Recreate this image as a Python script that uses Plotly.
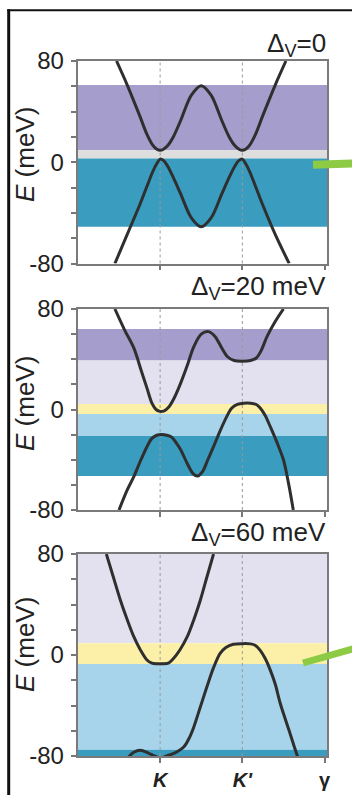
import plotly.graph_objects as go

W, H = 352, 795

# ---------------- data ----------------
k_ticks = [1, 2, 3]
k_labels = ["<b><i>K</i></b>", "<b><i>K'</i></b>", "<b>γ</b>"]
y_ticks = [-80, -60, -40, -20, 0, 20, 40, 60, 80]
y_labels = ["-80", "", "", "", "0", "", "", "", "80"]
titles = ["Δ<sub>V</sub>=0", "Δ<sub>V</sub>=20 meV", "Δ<sub>V</sub>=60 meV"]

# panel 1 (Δ=0)
k_cb1 = [0.47, 0.6, 0.75, 0.84, 0.91, 0.96, 1.0, 1.04, 1.09, 1.16, 1.25, 1.38, 1.5, 1.62, 1.75, 1.84, 1.91, 1.96, 2.0, 2.04, 2.09, 2.16, 2.25, 2.4, 2.53]
E_cb1 = [80, 61, 37, 22, 13.5, 10.3, 9.5, 10.3, 13, 20, 33, 53, 60.5, 53, 33, 20, 13, 10.3, 9.5, 10.3, 13.5, 22, 37, 61, 80]
k_vb1 = [0.45, 0.6, 0.75, 0.84, 0.91, 0.96, 1.0, 1.04, 1.09, 1.16, 1.25, 1.38, 1.5, 1.62, 1.75, 1.84, 1.91, 1.96, 2.0, 2.04, 2.09, 2.16, 2.25, 2.4, 2.57]
E_vb1 = [-80, -57, -34, -19, -7.5, -1, 2.5, 1.5, -3, -12, -25, -44, -51, -44, -25, -12, -3, 1.5, 2.5, -1, -7.5, -19, -34, -57, -80]
band1_lo = [9.5, 3, -51]
band1_hi = [61, 9.5, 3]

# panel 2 (Δ=20 meV)
k_cb2 = [0.45, 0.57, 0.68, 0.77, 0.84, 0.9, 0.95, 1.0, 1.05, 1.1, 1.17, 1.25, 1.33, 1.41, 1.5, 1.59, 1.67, 1.75, 1.82, 1.9, 2.0, 2.1, 2.17, 2.23, 2.3, 2.4, 2.5]
E_cb2 = [80, 63, 49, 31, 17, 5, 0, -1.5, -1, 1.5, 9, 21, 35, 50, 60, 62, 58, 49, 42, 39, 38.5, 39, 41, 47, 58, 70, 80]
k_vb2 = [0.5, 0.6, 0.68, 0.76, 0.84, 0.9, 0.96, 1.02, 1.08, 1.14, 1.2, 1.25, 1.33, 1.4, 1.455, 1.52, 1.58, 1.65, 1.73, 1.81, 1.87, 1.94, 2.02, 2.1, 2.17, 2.22, 2.28, 2.34, 2.42, 2.5, 2.56, 2.62]
E_vb2 = [-80, -64, -53.5, -41, -29.6, -23, -20.5, -20, -20.5, -22, -27, -32, -43, -51, -53, -49, -40, -29.6, -17, -5.7, 1, 4, 5, 5, 4, 1, -5, -13.7, -26, -40, -58, -80]
band2_lo = [39, 4.4, -3.6, -21, -53]
band2_hi = [64, 39, 4.4, -3.6, -21]

# panel 3 (Δ=60 meV)
k_cb3 = [0.346, 0.43, 0.516, 0.6, 0.68, 0.76, 0.84, 0.9, 0.96, 1.0, 1.04, 1.1, 1.16, 1.24, 1.33, 1.41, 1.49, 1.57, 1.65]
E_cb3 = [80, 62, 43.6, 28, 14.5, 4, -4, -6.5, -7, -7, -7, -6.5, -3, 4, 14.5, 28, 43.6, 62, 80]
k_vb3 = [0.6, 0.68, 0.76, 0.85, 0.93, 1.0, 1.08, 1.18, 1.29, 1.36, 1.41, 1.49, 1.57, 1.65, 1.73, 1.8, 1.89, 2.0, 2.1, 2.16, 2.22, 2.28, 2.34, 2.4, 2.46, 2.57, 2.67, 2.7]
E_vb3 = [-82, -77, -75.5, -77.5, -80, -81.5, -80, -77.5, -72.7, -65, -57, -41, -25, -10, 1.3, 6, 8.5, 9, 8.8, 7.5, 3.5, -3, -12, -23, -38, -60, -80, -85]
band3_lo = [9.3, -7.1, -75, -80]
band3_hi = [80, 9.3, -7.1, -75]

# ---------------- style ----------------
PURPLE = "#a59dcb"
GRAY = "#dedede"
TEAL = "#3a9cbf"
LAVENDER = "#e3e0ef"
YELLOW = "#fcf0a8"
LBLUE = "#a7d4eb"
band1_col = [PURPLE, GRAY, TEAL]
band2_col = [PURPLE, LAVENDER, YELLOW, LBLUE, TEAL]
band3_col = [LAVENDER, YELLOW, LBLUE, TEAL]

FONT = "Liberation Sans, Arial, Helvetica, sans-serif"
LINE = "#2f2f2f"
GREEN = "#8dcb45"

def px_x(p):
    return p / W

def px_y(p):
    return 1 - p / H

x_dom = [px_x(77.5), px_x(327)]
y_doms = [[px_y(263.5), px_y(61)], [px_y(510), px_y(309)], [px_y(756), px_y(554)]]

fig = go.Figure()

curves = [(k_cb1, E_cb1, k_vb1, E_vb1), (k_cb2, E_cb2, k_vb2, E_vb2), (k_cb3, E_cb3, k_vb3, E_vb3)]
bands = [(band1_lo, band1_hi, band1_col), (band2_lo, band2_hi, band2_col), (band3_lo, band3_hi, band3_col)]

shapes = []
annotations = []
layout = {}
for i in range(3):
    n = "" if i == 0 else str(i + 1)
    xa, ya = "x" + n, "y" + n
    kc, ec, kv, ev = curves[i]
    for kk, ee in ((kc, ec), (kv, ev)):
        fig.add_trace(go.Scatter(x=kk, y=ee, mode="lines", xaxis=xa, yaxis=ya,
                                 line=dict(color=LINE, width=3, shape="spline", smoothing=0.9),
                                 showlegend=False, hoverinfo="skip"))
    lo, hi, col = bands[i]
    for a, b, c in zip(lo, hi, col):
        shapes.append(dict(type="rect", xref=xa + " domain", yref=ya, x0=0, x1=1, y0=a, y1=b,
                           fillcolor=c, line=dict(width=0), layer="below"))
    for kt in k_ticks[:2]:
        shapes.append(dict(type="line", xref=xa, yref=ya + " domain", x0=kt, x1=kt, y0=0, y1=1,
                           line=dict(color="#9a9a9a", width=1, dash="dot"), layer="below"))
    layout["xaxis" + n] = dict(domain=x_dom, anchor=ya, range=[-0.005, 3.03], tickvals=k_ticks,
                               ticktext=k_labels, showticklabels=(i == 2), ticks="outside", ticklen=5,
                               tickwidth=1.5, tickcolor="#777", showline=True, mirror=True,
                               linecolor="#7a7a7a", linewidth=1.5, showgrid=False, zeroline=False,
                               tickfont=dict(size=20, color="#222", family=FONT), ticklabelstandoff=0,
                               automargin=False, fixedrange=True)
    layout["yaxis" + n] = dict(domain=y_doms[i], anchor=xa, range=[-80, 80], tickvals=y_ticks,
                               ticktext=y_labels, ticks="outside", ticklen=5, tickwidth=1.5,
                               tickcolor="#777", showline=True, mirror=True, linecolor="#7a7a7a",
                               linewidth=1.5, showgrid=False, zeroline=False,
                               tickfont=dict(size=24, color="#222", family=FONT), ticklabelstandoff=2,
                               automargin=False, fixedrange=True)
    # panel title
    title_px = [63, 306, 552][i]
    annotations.append(dict(text=titles[i], xref="paper", yref="paper", x=px_x(328), y=px_y(title_px),
                            xanchor="right", yanchor="bottom", showarrow=False,
                            font=dict(size=26, color="#222", family=FONT)))
    # y axis title
    yt_px = [155, 404, 645][i]
    annotations.append(dict(text="<i>E</i> (meV)", xref="paper", yref="paper", x=px_x(25), y=px_y(yt_px),
                            xanchor="center", yanchor="middle", textangle=-90, showarrow=False,
                            font=dict(size=26, color="#222", family=FONT)))

# outer frame lines and green pointers
shapes.append(dict(type="line", xref="paper", yref="paper", x0=px_x(8.7), x1=px_x(8.7), y0=px_y(9.3), y1=px_y(800),
                   line=dict(color="#111", width=3)))
shapes.append(dict(type="line", xref="paper", yref="paper", x0=px_x(7.2), x1=px_x(360), y0=px_y(10.3), y1=px_y(10.3),
                   line=dict(color="#111", width=2)))
shapes.append(dict(type="line", xref="paper", yref="paper", x0=px_x(313), x1=px_x(356), y0=px_y(164.8), y1=px_y(163.4),
                   line=dict(color=GREEN, width=8)))
shapes.append(dict(type="line", xref="paper", yref="paper", x0=px_x(303), x1=px_x(356), y0=px_y(663), y1=px_y(648),
                   line=dict(color=GREEN, width=7)))

fig.update_layout(width=W, height=H, margin=dict(l=0, r=0, t=0, b=0, pad=0, autoexpand=False),
                  paper_bgcolor="white", plot_bgcolor="white", shapes=shapes, annotations=annotations,
                  **layout)
fig.write_html("out.html", config={"displayModeBar": False})
